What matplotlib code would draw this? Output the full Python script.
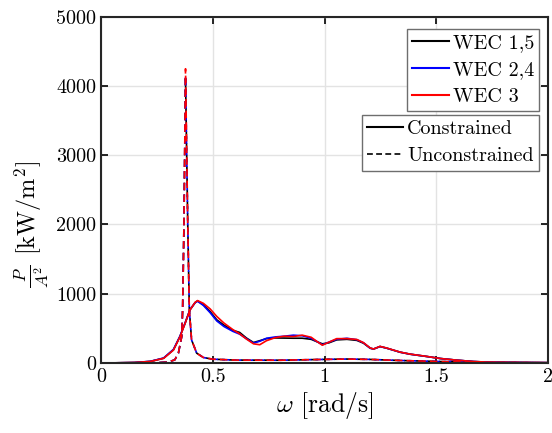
"""Power per unit amplitude for the WEC array, constrained vs unconstrained."""

import matplotlib

matplotlib.use("Agg")
import matplotlib.pyplot as plt  # noqa: E402
from matplotlib.lines import Line2D  # noqa: E402

plt.rcParams["font.family"] = "cmr10"
plt.rcParams["mathtext.fontset"] = "cm"
plt.rcParams["axes.formatter.use_mathtext"] = True
plt.rcParams["font.size"] = 14.5

# constrained curves
w_con = [0, 0.06, 0.15, 0.22, 0.28, 0.324, 0.353, 0.376, 0.398, 0.421, 0.432,
         0.458, 0.488, 0.518, 0.55, 0.59, 0.62, 0.65, 0.682, 0.71, 0.74, 0.78,
         0.82, 0.86, 0.90, 0.94, 0.97, 0.99, 1.02, 1.054, 1.10, 1.144, 1.174,
         1.204, 1.219, 1.248, 1.278, 1.338, 1.383, 1.457, 1.517, 1.591, 1.666,
         1.74, 1.89, 2.0]
p_con_15 = [0, 0, 5, 20, 67, 188, 380, 573, 766, 871, 896,
            838, 741, 621, 545, 470, 440, 360, 294, 320, 350, 360,
            358, 356, 356, 340, 300, 275, 290, 332, 340, 325, 284,
            212, 200, 236, 212, 154, 125, 92, 63, 39, 19,
            9, 5, 3]
p_con_24 = [0, 0, 5, 22, 70, 195, 385, 575, 770, 870, 890,
            830, 725, 605, 525, 455, 415, 350, 285, 312, 355, 375,
            385, 400, 392, 355, 300, 262, 300, 340, 355, 335, 290,
            212, 200, 236, 212, 154, 125, 92, 63, 39, 19,
            9, 5, 3]
p_con_3 = [0, 0, 5, 20, 65, 185, 375, 570, 765, 875, 900,
           860, 780, 670, 575, 480, 420, 345, 275, 262, 320, 365,
           385, 380, 400, 370, 300, 255, 300, 350, 350, 338, 292,
           215, 200, 238, 214, 155, 126, 93, 63, 39, 19,
           9, 5, 3]

# unconstrained curves
w_unc = [0, 0.15, 0.25, 0.30, 0.33, 0.346, 0.361, 0.365, 0.371, 0.378, 0.388,
         0.395, 0.405, 0.428, 0.458, 0.50, 0.6, 0.8, 1.0, 1.1, 1.2, 1.34,
         1.52, 1.7, 2.0]
p_unc_15 = [0, 0, 2, 12, 43, 140, 380, 766, 2000, 4100, 2000,
            766, 332, 140, 77, 53, 40, 38, 50, 55, 50, 34,
            19, 6, 0]
p_unc_24 = [0, 0, 2, 12, 43, 140, 380, 766, 2000, 4150, 2000,
            766, 332, 140, 77, 53, 40, 38, 50, 55, 50, 34,
            19, 6, 0]
p_unc_3 = [0, 0, 2, 12, 43, 140, 380, 766, 2000, 4250, 2000,
           766, 332, 140, 77, 53, 40, 38, 50, 55, 50, 34,
           19, 6, 0]

wec_names = ["WEC 1,5", "WEC 2,4", "WEC 3"]
wec_colors = ["k", "#0000ff", "#ff0000"]
xticks = [0, 0.5, 1, 1.5, 2]
xtick_labels = ["0", "0.5", "1", "1.5", "2"]
yticks = [0, 1000, 2000, 3000, 4000, 5000]

fig = plt.figure(figsize=(5.52, 4.33), dpi=100)
ax = fig.add_axes([0.183, 0.162, 0.810, 0.799])

dash = (0, (4.5, 2.5))
for pc, pu, col in zip([p_con_15, p_con_24, p_con_3],
                       [p_unc_15, p_unc_24, p_unc_3], wec_colors):
    ax.plot(w_con, pc, color=col, lw=1.2)
    ax.plot(w_unc, pu, color=col, lw=1.2, ls=dash)

ax.set_xlim(0, 2)
ax.set_ylim(0, 5000)
ax.set_xticks(xticks)
ax.set_xticklabels(xtick_labels)
ax.set_yticks(yticks)
ax.set_yticklabels([str(v) for v in yticks])
ax.tick_params(direction="in", length=5, width=1.2, top=True, right=True)
ax.grid(color="#e3e3e3", lw=1)
ax.set_axisbelow(True)
for s in ax.spines.values():
    s.set_linewidth(1.5)
    s.set_color("#262626")

ax.set_xlabel(r"$\omega$ [rad/s]", fontsize=18.5, labelpad=3)
ax.set_ylabel(r"$\frac{P}{A^2}$ [kW/m$^2$]", fontsize=17.5)
ax.yaxis.set_label_coords(-0.112, 0.40)

leg_kw = dict(loc="upper right", bbox_transform=fig.transFigure, fancybox=False,
              framealpha=1, edgecolor="#6e6e6e", borderaxespad=0, borderpad=0.25,
              handlelength=1.8, handletextpad=0.2, labelspacing=0.45)
h1 = [Line2D([], [], color=c, lw=1.5) for c in wec_colors]
leg1 = ax.legend(h1, wec_names, bbox_to_anchor=(0.9764, 0.933), **leg_kw)
leg1.get_frame().set_linewidth(1.0)
ax.add_artist(leg1)
h2 = [Line2D([], [], color="k", lw=1.5),
      Line2D([], [], color="k", lw=1.2, ls=(0, (3.5, 2)))]
leg2 = ax.legend(h2, ["Constrained", "Unconstrained"],
                 bbox_to_anchor=(0.9764, 0.734), **leg_kw)
leg2.get_frame().set_linewidth(1.0)

fig.savefig("out.png", dpi=100)
